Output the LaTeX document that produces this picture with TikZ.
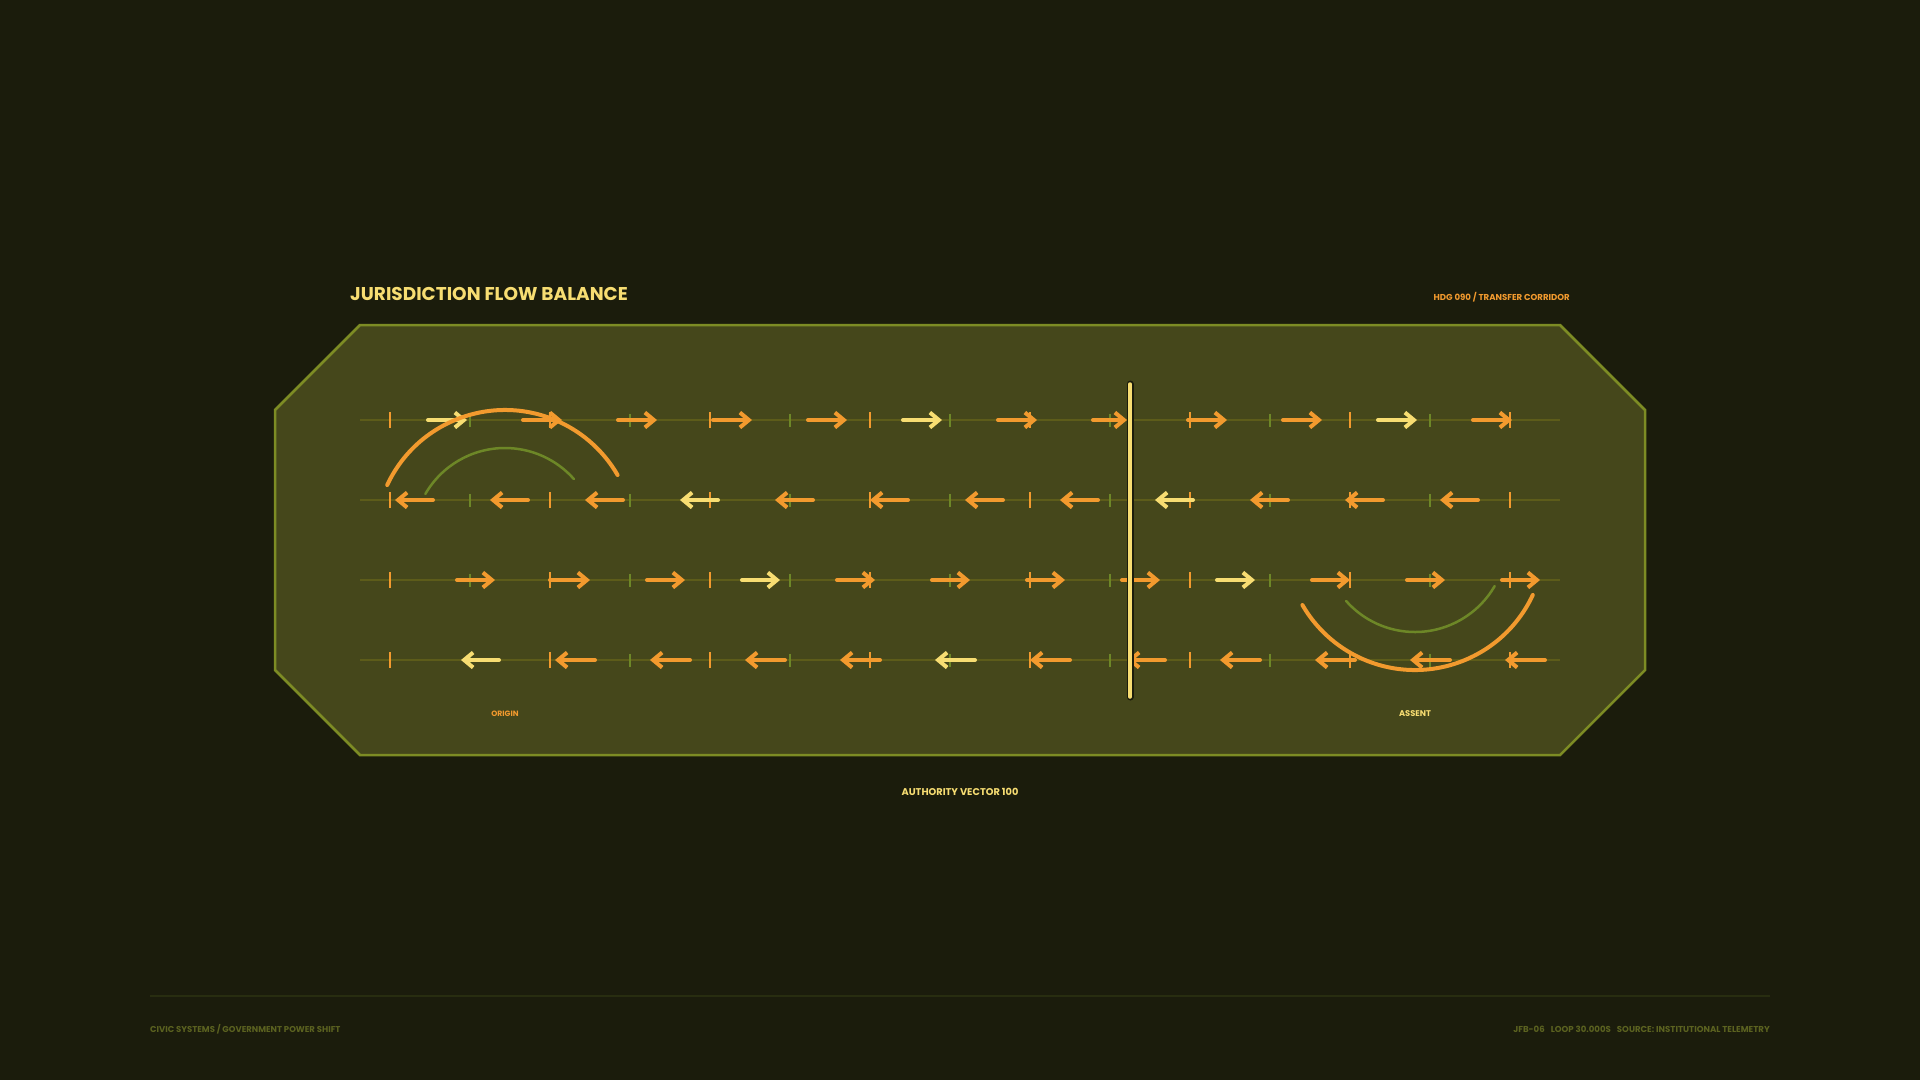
\documentclass[tikz,border=0pt]{standalone}
\usepackage{fontspec}
\setmainfont{Poppins}
\usetikzlibrary{arrows.meta}

\definecolor{bgdark}{HTML}{1B1C0C}
\definecolor{panelfill}{HTML}{45471B}
\definecolor{panelline}{HTML}{7D8C24}
\definecolor{guidecol}{HTML}{5D5C1A}
\definecolor{flowor}{HTML}{F29A2E}
\definecolor{flowye}{HTML}{F7DD72}
\definecolor{tickgreen}{HTML}{6D8727}
\definecolor{footcol}{HTML}{5B6220}
\definecolor{footline}{HTML}{282D10}

\begin{document}
\begin{tikzpicture}[x=1pt,y=-1pt,
    guide/.style={draw=guidecol,line width=2},
    tickmain/.style={draw=flowor,line width=2},
    tickminor/.style={draw=tickgreen,line width=1.5},
    flow/.style={line width=4,line cap=round,line join=round,-{Straight Barb[length=9pt,width=15pt]}},
    arcmain/.style={draw=flowor,line width=4,line cap=round},
    arcinner/.style={draw=tickgreen,line width=2.5,line cap=round},
    label/.style={inner sep=0pt,font=\bfseries}]

            \fill[bgdark] (0,0) rectangle (1920,1080);
            \useasboundingbox (0,0) rectangle (1920,1080);

            \node[label,anchor=base west,text=flowye,font=\bfseries\fontsize{18.5}{20}\selectfont] (title) at (350,300.5) {JURISDICTION FLOW BALANCE};
            \node[label,anchor=base east,text=flowor,font=\bfseries\fontsize{8.6}{10}\selectfont] (heading) at (1570,300.5) {HDG 090 / TRANSFER CORRIDOR};

            \filldraw[fill=panelfill,draw=panelline,line width=2.5] (360,325) -- (1560,325) -- (1645,410) -- (1645,670) -- (1560,755) -- (360,755) -- (275,670) -- (275,410) -- cycle;

            % guides and ticks
            \foreach \y in {420,500,580,660} {
                \draw[guide] (360,\y) -- (1560,\y);
                \foreach \x in {390,550,...,1510}
                    \draw[tickmain] (\x,\y-8) -- (\x,\y+8);
                \foreach \x in {470,630,...,1430}
                    \draw[tickminor] (\x,\y-6.5) -- (\x,\y+6.5);
            }

            % flow arrows
            \foreach \a/\b/\c in {428/467/flowye,523/562/flowor,618/657/flowor,713/752/flowor,808/847/flowor,903/942/flowye,998/1037/flowor,1093/1127/flowor,1188/1227/flowor,1283/1322/flowor,1378/1417/flowye,1473/1512/flowor}
                \draw[flow,draw=\c] (\a,420) -- (\b,420);
            \foreach \a/\b/\c in {433/395/flowor,528/490/flowor,623/585/flowor,718/680/flowye,813/775/flowor,908/870/flowor,1003/965/flowor,1098/1060/flowor,1193/1155/flowye,1288/1250/flowor,1383/1345/flowor,1478/1440/flowor}
                \draw[flow,draw=\c] (\a,500) -- (\b,500);
            \foreach \a/\b/\c in {457/495/flowor,550/590/flowor,647/685/flowor,742/780/flowye,837/875/flowor,932/970/flowor,1027/1065/flowor,1122/1160/flowor,1217/1255/flowye,1312/1350/flowor,1407/1445/flowor,1502/1540/flowor}
                \draw[flow,draw=\c] (\a,580) -- (\b,580);
            \foreach \a/\b/\c in {499/461/flowye,595/555/flowor,690/650/flowor,785/745/flowor,880/840/flowor,975/935/flowye,1070/1030/flowor,1165/1127/flowor,1260/1220/flowor,1355/1315/flowor,1450/1410/flowor,1545/1505/flowor}
                \draw[flow,draw=\c] (\a,660) -- (\b,660);

            % loops
            \draw[arcmain] (505,540) ++(205:130) arc[start angle=205,end angle=330,radius=130];
            \draw[arcinner] (505,540) ++(210:92) arc[start angle=210,end angle=318.5,radius=92];
            \draw[arcmain] (1415,540) ++(25:130) arc[start angle=25,end angle=150,radius=130];
            \draw[arcinner] (1415,540) ++(30:92) arc[start angle=30,end angle=138.5,radius=92];

            % balance bar
            \coordinate (bartop) at (1130,384);
            \coordinate (barbot) at (1130,697);
            \draw[bgdark,line width=7,line cap=round] (bartop) -- (barbot);
            \draw[flowye,line width=3.5,line cap=round] (bartop) -- (barbot);

            \node[label,anchor=base,text=flowor,font=\bfseries\fontsize{7.7}{8}\selectfont] (origin) at (505,716.5) {ORIGIN};
            \node[label,anchor=base,text=flowye,font=\bfseries\fontsize{8.3}{9}\selectfont] (assent) at (1415,716.5) {ASSENT};
            \node[label,anchor=base,text=flowye,font=\bfseries\fontsize{9.8}{11}\selectfont] (vector) at (960,795.5) {AUTHORITY VECTOR 100};

            \draw[footline,line width=1.5] (150,996) -- (1770,996);
            \node[label,anchor=base west,text=footcol,font=\bfseries\fontsize{8.5}{9}\selectfont] (footleft) at (150,1032) {CIVIC SYSTEMS / GOVERNMENT POWER SHIFT};
            \node[label,anchor=base east,text=footcol,font=\bfseries\fontsize{8.6}{9}\selectfont] (footright) at (1770,1032) {JFB-06\hspace{6pt}LOOP 30.000S\hspace{6pt}SOURCE: INSTITUTIONAL TELEMETRY};
        \end{tikzpicture}
\end{document}
